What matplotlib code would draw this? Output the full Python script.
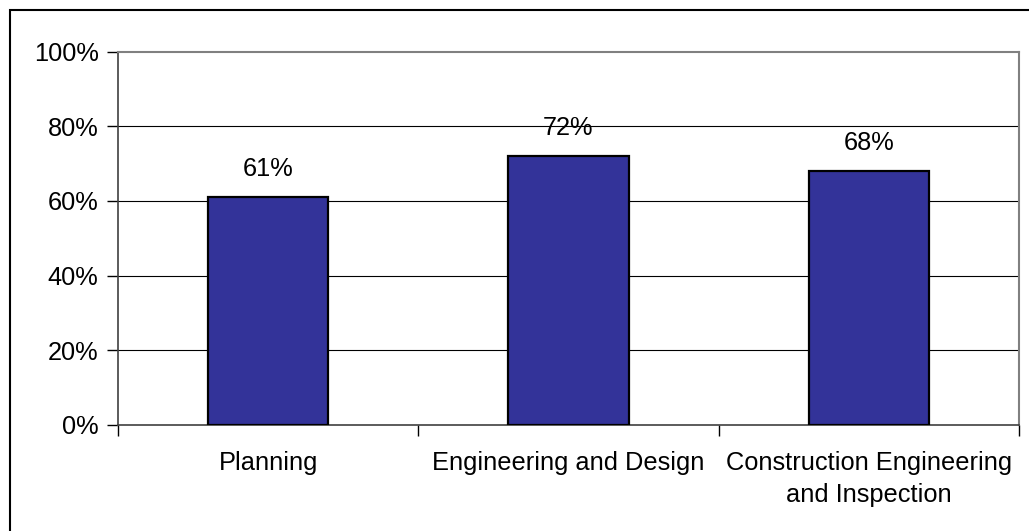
import matplotlib
matplotlib.use("Agg")
import matplotlib.pyplot as plt
from matplotlib.patches import Rectangle
from matplotlib.ticker import FixedLocator, NullFormatter

categories = ["Planning", "Engineering and Design", "Construction Engineering\nand Inspection"]
values = [61, 72, 68]
yticks = [0, 20, 40, 60, 80, 100]
ytick_labels = ["0%", "20%", "40%", "60%", "80%", "100%"]

plt.rcParams['font.family'] = ['Liberation Sans', 'DejaVu Sans']
FS = 18.3
W, H = 1029, 531
fig = plt.figure(figsize=(W / 100, H / 100), dpi=100)
fig.patch.set_facecolor('white')

# outer chart border (left/top visible, right/bottom beyond image)
fig.patches.append(Rectangle((9.5 / W, -0.05), 1.2, 1 - 10 / H + 0.05,
                             transform=fig.transFigure, fill=False,
                             edgecolor='black', linewidth=1.5))

ax = fig.add_axes([118 / W, 1 - 425 / H, (1019 - 118) / W, (425 - 51.5) / H])
x = list(range(len(categories)))
ax.bar(x, values, width=0.4, color='#333399', edgecolor='black', linewidth=1.6, zorder=3)

ax.set_xlim(-0.5, len(categories) - 0.5)
ax.set_ylim(0, 100)
ax.set_yticks(yticks)
ax.set_yticklabels(ytick_labels, fontsize=FS)
for yv in yticks[1:-1]:
    ax.axhline(yv, color='black', linewidth=0.8, zorder=1)

ax.set_xticks(x)
ax.set_xticklabels(categories, fontsize=FS, linespacing=1.4)
ax.tick_params(axis='x', which='major', length=0, pad=19)
ax.xaxis.set_minor_locator(FixedLocator([i - 0.5 for i in range(len(categories) + 1)]))
ax.xaxis.set_minor_formatter(NullFormatter())
ax.tick_params(axis='x', which='minor', length=8, width=1.0, color='black', direction='out')
ax.tick_params(axis='y', length=8, width=1.0, color='black', direction='out', pad=6)

for s in ['top', 'right']:
    ax.spines[s].set_color('#808080')
    ax.spines[s].set_linewidth(1.5)
ax.spines['left'].set_color('#404040')
ax.spines['left'].set_linewidth(1.2)
ax.spines['bottom'].set_color('#404040')
ax.spines['bottom'].set_linewidth(1.2)

for xi, v in zip(x, values):
    ax.annotate(f"{v}%", (xi, v), xytext=(0, 16), textcoords='offset pixels',
                ha='center', va='bottom', fontsize=FS)

fig.savefig("out.png", dpi=100)
